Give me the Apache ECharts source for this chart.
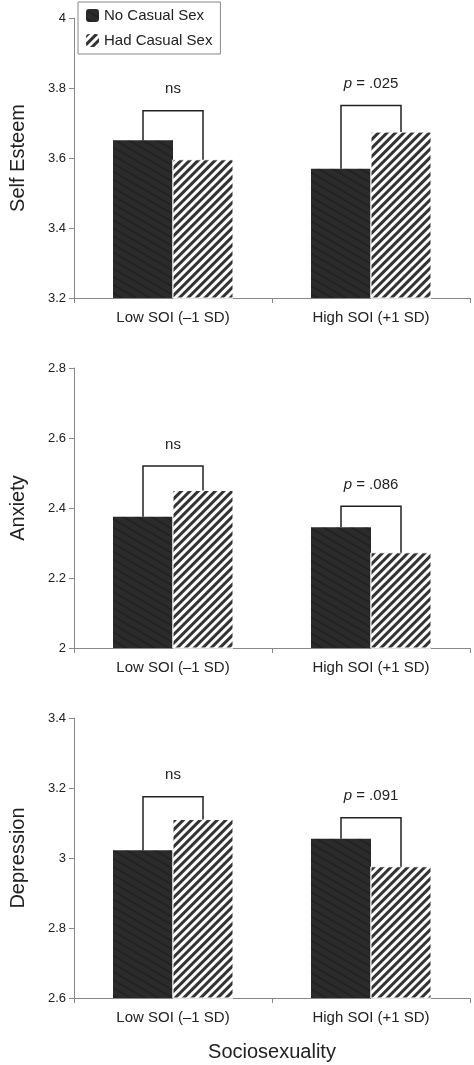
<!DOCTYPE html><html><head><meta charset="utf-8"><script src="https://cdn.jsdelivr.net/npm/echarts@6/dist/echarts.min.js"></script>
<style>html,body{margin:0;padding:0;background:#fff}#c{width:474px;height:1065px}</style></head><body><div id="c"></div>
<script>
const categories = ['Low SOI (\u20131 SD)', 'High SOI (+1 SD)'];
const seriesNames = ['No Casual Sex', 'Had Casual Sex'];
const panelNames = ['Self Esteem', 'Anxiety', 'Depression'];
const yMin = [3.2, 2, 2.6];
const yMax = [4, 2.8, 3.4];
const noCasual = [[3.651, 3.569], [2.375, 2.345], [3.022, 3.055]];
const hadCasual = [[3.595, 3.674], [2.45, 2.272], [3.11, 2.975]];
const bracketTop = [[3.735, 3.75], [2.52, 2.405], [3.175, 3.115]];
const bracketLabel = [['ns', 'p = .025'], ['ns', 'p = .086'], ['ns', 'p = .091']];

const tops = [18, 368, 718];
const grid = tops.map(t => ({left: 68, right: 4, top: t, height: 280}));
const font = 'Liberation Sans, Arial, sans-serif';
const xAxis = tops.map((t, i) => ({gridIndex: i, type: 'category', data: categories,
  axisLine: {lineStyle: {color: '#888'}}, axisTick: {show: true, alignWithLabel: false, length: 5, lineStyle: {color: '#888'}},
  axisLabel: {color: '#222', fontSize: 15, fontFamily: font, margin: 12},
  name: i === 2 ? 'Sociosexuality' : '', nameLocation: 'middle', nameGap: 44,
  nameTextStyle: {fontSize: 20, color: '#222', fontFamily: font}}));
const yAxis = tops.map((t, i) => ({gridIndex: i, type: 'value', min: yMin[i], max: yMax[i], interval: 0.2,
  axisLine: {show: true, lineStyle: {color: '#888'}}, axisTick: {show: true, length: 5, lineStyle: {color: '#888'}},
  splitLine: {show: false},
  axisLabel: {color: '#222', fontSize: 13, fontFamily: font, formatter: v => String(+v.toFixed(1))},
  name: panelNames[i], nameLocation: 'middle', nameGap: 46,
  nameTextStyle: {fontSize: 20, color: '#222', fontFamily: font}}));
const decal = {symbol: 'rect', dashArrayX: [1, 0], dashArrayY: [3, 3], rotation: -Math.PI / 4, color: '#333', symbolSize: 1};
const series = [];
for (let i = 0; i < 3; i++) {
  series.push({type: 'bar', name: seriesNames[0], xAxisIndex: i, yAxisIndex: i, data: noCasual[i], barWidth: 60, barGap: '0%',
    itemStyle: {color: '#2b2b2b'}});
  series.push({type: 'bar', name: seriesNames[1], xAxisIndex: i, yAxisIndex: i, data: hadCasual[i], barWidth: 60, barGap: '0%',
    itemStyle: {color: '#fff', borderColor: '#fff', decal: decal}});
  series.push({type: 'custom', xAxisIndex: i, yAxisIndex: i, silent: true, z: 10,
    data: [0, 1].map(k => [k, noCasual[i][k], hadCasual[i][k], bracketTop[i][k], bracketLabel[i][k]]),
    renderItem: (params, api) => {
      const c = api.value(0);
      const pA = api.coord([c, api.value(1)]);
      const pB = api.coord([c, api.value(2)]);
      const pT = api.coord([c, api.value(3)]);
      const xa = pA[0] - 30, xb = pA[0] + 30;
      const lab = bracketLabel[i][c];
      const text = lab === 'ns' ? 'ns' : '{it|p} = ' + lab.slice(4);
      return {type: 'group', children: [
        {type: 'polyline', shape: {points: [[xa, pA[1]], [xa, pT[1]], [xb, pT[1]], [xb, pB[1]]]},
          style: {stroke: '#222', lineWidth: 1.5, fill: null}},
        {type: 'text', x: pA[0], y: pT[1] - 14, style: {text: text, align: 'center', verticalAlign: 'bottom',
          fontSize: 15, fontFamily: font, fill: '#222', rich: {it: {fontStyle: 'italic', fontSize: 15, fontFamily: font}}}}
      ]};
    }});
}
const chart = echarts.init(document.getElementById('c'));
chart.setOption({
  animation: false,
  aria: {enabled: true, decal: {show: true}},
  grid, xAxis, yAxis, series,
  legend: {data: seriesNames, left: 78, top: 2, orient: 'vertical', itemWidth: 13, itemHeight: 13, itemGap: 10,
    padding: [6, 8], borderColor: '#888', borderWidth: 1, backgroundColor: '#fff',
    textStyle: {fontSize: 15, fontFamily: font, color: '#222'}}
});
</script></body></html>
